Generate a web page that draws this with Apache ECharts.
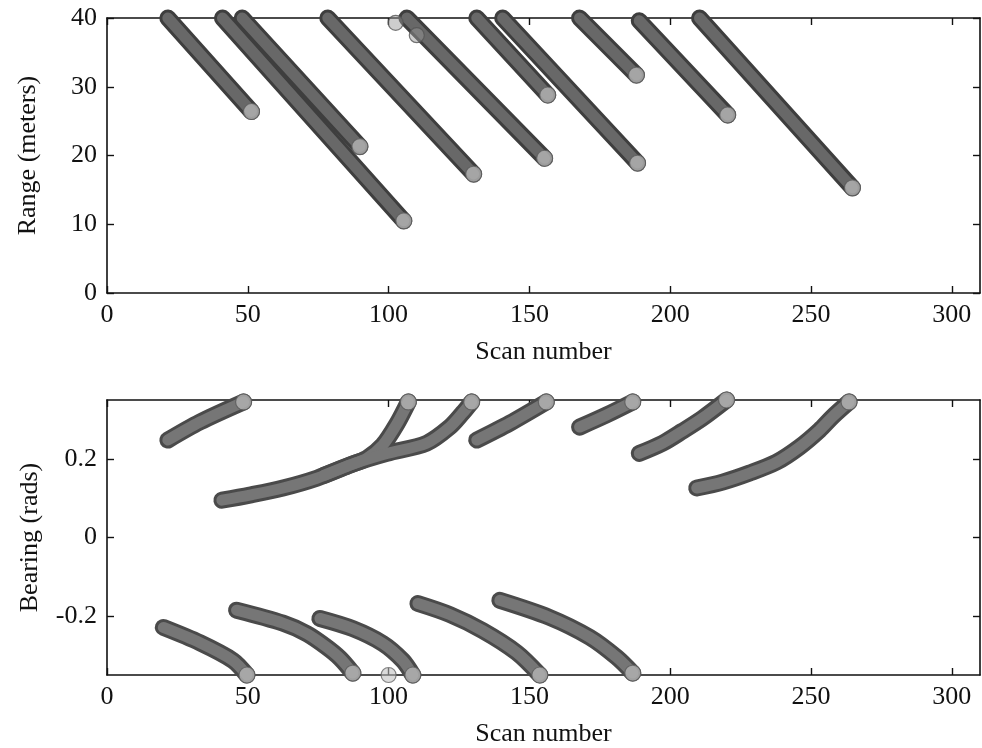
<!DOCTYPE html>
<html>
<head>
<meta charset="utf-8">
<script src="https://cdn.jsdelivr.net/npm/echarts@6/dist/echarts.min.js"></script>
<style>
html,body{margin:0;padding:0;background:#fff;}
#chart{width:982px;height:748px;}
</style>
</head>
<body>
<div id="chart"></div>
<script>
// ---- tick labels ----
const scanTicks = [0, 50, 100, 150, 200, 250, 300];
const rangeTicks = [0, 10, 20, 30, 40];
const bearingTicks = [-0.2, 0, 0.2];

// ---- range tracks: [scan number, range (m)] ----
const rangeTrack1 = [[21.6, 40], [51.3, 26.4]];
const rangeTrack2 = [[41, 40], [105.4, 10.5]];
const rangeTrack3 = [[48, 40], [89.8, 21.3]];
const rangeTrack4 = [[78.4, 40], [130.2, 17.3]];
const rangeTrack5 = [[106.5, 40], [155.4, 19.6]];
const rangeTrack6 = [[131.3, 40], [156.5, 28.8]];
const rangeTrack7 = [[140.5, 40], [188.4, 18.9]];
const rangeTrack8 = [[167.8, 40], [188, 31.7]];
const rangeTrack9 = [[189, 39.6], [220.4, 25.9]];
const rangeTrack10 = [[210.4, 40], [264.7, 15.3]];
const rangeExtra = [[102.5, 39.3], [110, 37.5]];

// ---- bearing tracks: [scan number, bearing (rad)] ----
const bearingTrack1 = [[21.6, 0.248], [33, 0.294], [48.5, 0.345]];
const bearingTrack2 = [[40.8, 0.095], [50.7, 0.108], [62.5, 0.126], [74.5, 0.151], [86.2, 0.184], [92.3, 0.202], [97.9, 0.235], [103, 0.29], [107, 0.345]];
const bearingTrack3 = [[77, 0.158], [88, 0.189], [99.4, 0.214], [113.5, 0.240], [121.7, 0.281], [126.3, 0.317], [129.5, 0.345]];
const bearingTrack4 = [[131.3, 0.248], [143, 0.291], [156, 0.345]];
const bearingTrack5 = [[167.8, 0.281], [177.4, 0.312], [186.7, 0.345]];
const bearingTrack6 = [[189, 0.214], [197.3, 0.240], [204.4, 0.271], [211.5, 0.304], [220, 0.35]];
const bearingTrack7 = [[209.4, 0.126], [218.6, 0.141], [228.2, 0.164], [237.8, 0.192], [245.9, 0.230], [253, 0.273], [257.6, 0.307], [263.5, 0.345]];
const bearingTrack8 = [[20, -0.229], [33, -0.268], [44.7, -0.313], [49.7, -0.35]];
const bearingTrack9 = [[46, -0.185], [62.5, -0.218], [71, -0.245], [78, -0.279], [82.7, -0.307], [87.3, -0.345]];
const bearingTrack10 = [[75.6, -0.206], [87.3, -0.232], [98, -0.27], [105, -0.313], [108.6, -0.35]];
const bearingTrack11 = [[110.4, -0.168], [121.7, -0.196], [133.4, -0.237], [145.5, -0.293], [153.7, -0.35]];
const bearingTrack12 = [[139.5, -0.16], [157, -0.203], [171.4, -0.254], [181, -0.305], [186.7, -0.345]];
const bearingExtra = [[100, -0.35]];

const rangeTracks = [rangeTrack1, rangeTrack2, rangeTrack3, rangeTrack4, rangeTrack5, rangeTrack6, rangeTrack7, rangeTrack8, rangeTrack9, rangeTrack10];
const bearingTracks = [bearingTrack1, bearingTrack2, bearingTrack3, bearingTrack4, bearingTrack5, bearingTrack6, bearingTrack7, bearingTrack8, bearingTrack9, bearingTrack10, bearingTrack11, bearingTrack12];

const FONT = 'Liberation Serif';
const FS = 26;

function axisCommon() {
  return {
    axisLine: { show: true, onZero: false, lineStyle: { color: '#111', width: 1.6 } },
    axisTick: { show: true, inside: true, length: 7, lineStyle: { color: '#111', width: 1.4 } },
    splitLine: { show: false },
    axisLabel: { show: false }
  };
}

function xAxes(gridIndex) {
  const bottom = Object.assign(axisCommon(), {
    type: 'value', gridIndex, min: 0, max: 310, position: 'bottom',
    name: 'Scan number', nameLocation: 'middle', nameGap: 46,
    nameTextStyle: { fontFamily: FONT, fontSize: FS, color: '#111' }
  });
  bottom.axisTick.customValues = scanTicks;
  bottom.axisLabel = { show: true, customValues: scanTicks, margin: 9, fontFamily: FONT, fontSize: FS, color: '#111' };
  const top = Object.assign(axisCommon(), { type: 'value', gridIndex, min: 0, max: 310, position: 'top' });
  top.axisTick.customValues = scanTicks;
  return [bottom, top];
}

function yAxes(gridIndex, min, max, ticks, name, gap) {
  const left = Object.assign(axisCommon(), {
    type: 'value', gridIndex, min, max, position: 'left',
    name, nameLocation: 'middle', nameGap: gap,
    nameTextStyle: { fontFamily: FONT, fontSize: FS, color: '#111' }
  });
  left.axisTick.customValues = ticks;
  left.axisLabel = { show: true, customValues: ticks, margin: 10, fontFamily: FONT, fontSize: FS, color: '#111',
    formatter: v => String(Math.round(v * 100) / 100) };
  const right = Object.assign(axisCommon(), { type: 'value', gridIndex, min, max, position: 'right' });
  right.axisTick.customValues = ticks;
  return [left, right];
}

function trackSeries(track, xi, yi, outer, inner, smooth) {
  const base = { type: 'line', xAxisIndex: xi, yAxisIndex: yi, data: track, showSymbol: false, symbol: 'none',
    clip: false, silent: true, smooth: smooth, animation: false };
  return [
    Object.assign({}, base, { lineStyle: { color: outer, width: 17, cap: 'round', join: 'round' }, z: 2 }),
    Object.assign({}, base, { lineStyle: { color: inner, width: 11, cap: 'round', join: 'round' }, z: 3 }),
    { type: 'scatter', xAxisIndex: xi, yAxisIndex: yi, data: [track[track.length - 1]], clip: false, silent: true,
      symbol: 'circle', symbolSize: 16, animation: false, z: 4,
      itemStyle: { color: '#b4b4b4', borderColor: '#5a5a5a', borderWidth: 1.2 } }
  ];
}

const series = [];
rangeTracks.forEach(t => series.push(...trackSeries(t, 0, 0, '#3e3e3e', '#686868', false)));
bearingTracks.forEach(t => series.push(...trackSeries(t, 2, 2, '#4a4a4a', '#767676', 0.3)));
series.push({ type: 'scatter', xAxisIndex: 0, yAxisIndex: 0, data: rangeExtra, clip: false, silent: true,
  symbol: 'circle', symbolSize: 15, animation: false, z: 4,
  itemStyle: { color: 'rgba(150,150,150,0.6)', borderColor: '#555', borderWidth: 1.2 } });
series.push({ type: 'scatter', xAxisIndex: 2, yAxisIndex: 2, data: bearingExtra, clip: false, silent: true,
  symbol: 'circle', symbolSize: 15, animation: false, z: 4,
  itemStyle: { color: 'rgba(190,190,190,0.7)', borderColor: '#666', borderWidth: 1.2 } });

const chart = echarts.init(document.getElementById('chart'), null, { renderer: 'canvas' });
chart.setOption({
  backgroundColor: '#fff',
  animation: false,
  grid: [
    { left: 107, top: 18, width: 873, height: 275 },
    { left: 107, top: 400, width: 873, height: 275 }
  ],
  xAxis: [...xAxes(0), ...xAxes(1)],
  yAxis: [
    ...yAxes(0, 0, 40, rangeTicks, 'Range (meters)', 66),
    ...yAxes(1, -0.35, 0.35, bearingTicks, 'Bearing (rads)', 64)
  ],
  series
});
</script>
</body>
</html>
